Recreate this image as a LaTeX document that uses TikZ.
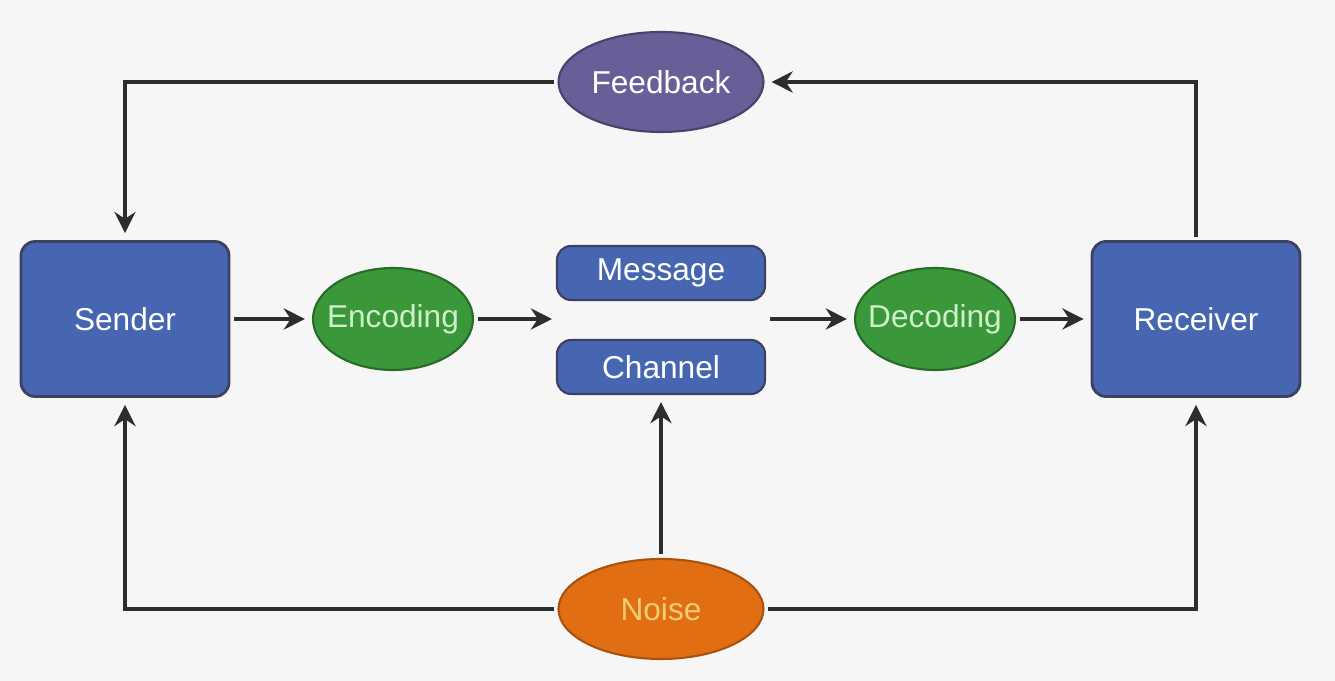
\documentclass[tikz,border=0pt]{standalone}
\usepackage{fontspec}
\setmainfont{Liberation Sans}
\usetikzlibrary{arrows.meta,shapes.geometric,calc}
\definecolor{bggray}{RGB}{246,246,247}
\definecolor{boxblue}{RGB}{70,102,178}
\definecolor{boxedge}{RGB}{62,66,96}
\definecolor{fbpurple}{RGB}{104,94,152}
\definecolor{codegreen}{RGB}{58,152,58}
\definecolor{codetext}{RGB}{205,240,200}
\definecolor{noiseorange}{RGB}{226,110,20}
\definecolor{noisetext}{RGB}{240,205,115}
\definecolor{linegray}{RGB}{45,45,45}
\begin{document}
\begin{tikzpicture}[
  font=\fontsize{9}{10}\selectfont,
  party/.style={rectangle, rounded corners=4pt, fill=boxblue, draw=boxedge, line width=0.8pt,
    text=white, minimum width=2.08cm, minimum height=1.55cm},
  bar/.style={rectangle, rounded corners=4pt, fill=boxblue, draw=boxedge, line width=0.6pt,
    text=white, minimum width=2.08cm, minimum height=0.54cm},
  code/.style={ellipse, fill=codegreen, draw=codegreen!70!black, line width=0.6pt,
    text=codetext, inner xsep=-3pt, minimum width=1.6cm, minimum height=1.02cm},
  arr/.style={-{Stealth[length=6pt,width=6pt]}, draw=linegray, line width=1pt,
    shorten >=2pt, shorten <=1pt}]
\fill[bggray] (0,0) rectangle (13.35,6.81);
\useasboundingbox (0,0) rectangle (13.35,6.81);
\node[party] (sender) at (1.25,3.62) {Sender};
\node[party] (receiver) at (11.96,3.62) {Receiver};
\node[ellipse, fill=fbpurple, draw=fbpurple!70!black, line width=0.6pt, text=white, inner xsep=0pt,
  minimum width=2.05cm, minimum height=1.0cm] (feedback) at (6.61,5.99) {Feedback};
\node[code] (encoding) at (3.93,3.62) {Encoding};
\node[code] (decoding) at (9.35,3.62) {Decoding};
\node[bar] (message) at (6.61,4.08) {Message};
\node[bar] (channel) at (6.61,3.14) {Channel};
\node[ellipse, fill=noiseorange, draw=noiseorange!75!black, line width=0.6pt, text=noisetext,
  minimum width=2.05cm, minimum height=1.0cm] (noise) at (6.61,0.72) {Noise};
\coordinate (mcin) at (5.52,3.62);
\coordinate (mcout) at (7.70,3.62);
\draw[arr] (receiver.north) |- (feedback.east);
\draw[arr] (feedback.west) -| (sender.north);
\draw[arr] (sender.east) -- (encoding.west);
\draw[arr, shorten >=0pt] (encoding.east) -- (mcin);
\draw[arr, shorten <=0pt] (mcout) -- (decoding.west);
\draw[arr] (decoding.east) -- (receiver.west);
\draw[arr] (noise.north) -- (channel.south);
\draw[arr] (noise.west) -| (sender.south);
\draw[arr] (noise.east) -| (receiver.south);
\end{tikzpicture}
\end{document}
